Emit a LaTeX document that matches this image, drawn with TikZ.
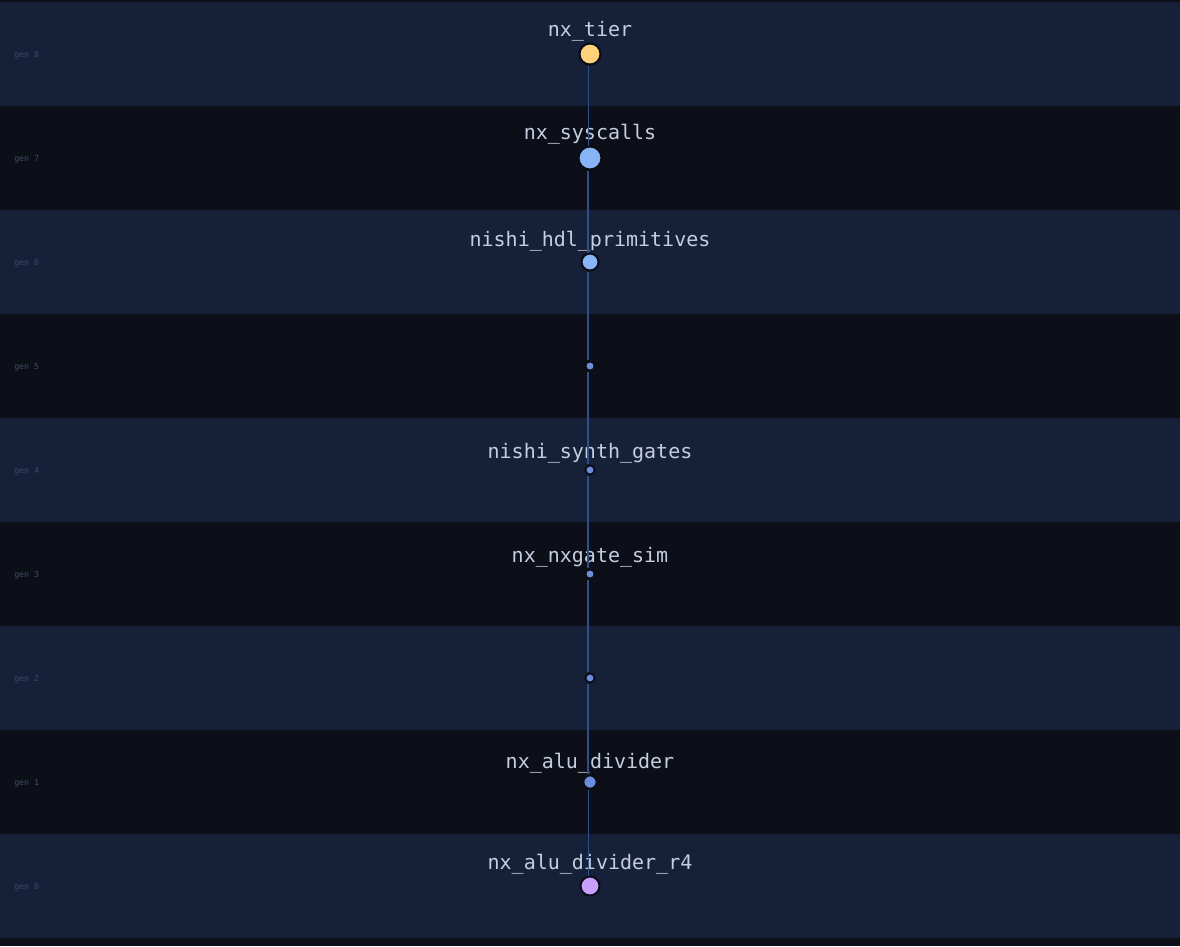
\documentclass[tikz,border=0pt]{standalone}
\usepackage{fontspec}
\usepackage{xcolor}
\usepackage{tikz}
\usetikzlibrary{positioning, calc}
\newfontfamily\pixfont{DejaVu Sans Mono}

\definecolor{bgdark}{HTML}{0C0F17}
\definecolor{bglight}{HTML}{162038}
\definecolor{genfg}{HTML}{3C4B69}
\definecolor{lblfg}{HTML}{C5CDE0}
\definecolor{edgefg}{HTML}{2C5088}
\definecolor{ringfg}{HTML}{0A0D14}
\definecolor{tiery}{HTML}{FFD27A}
\definecolor{sysblue}{HTML}{8AB4F8}
\definecolor{midblue}{HTML}{6B8FDF}
\definecolor{rfourp}{HTML}{C9A0FF}

\begin{document}
\begin{tikzpicture}[
    x=0.75pt, y=-0.75pt,
    gen/.style={circle, draw=ringfg, line width=1.5pt, inner sep=0pt},
    lbl/.style={font=\pixfont\fontsize{15}{15}\selectfont, text=lblfg,
                inner sep=0pt, text depth=0pt},
    genlbl/.style={font=\pixfont\fontsize{6.2}{6.2}\selectfont, text=genfg,
                   inner sep=0pt, anchor=base west},
    edge/.style={draw=edgefg, line width=0.75pt},
    edgethick/.style={draw=edgefg, line width=1.5pt},
]

%% Background and generation bands
\fill[bgdark] (0,0) rectangle (1180,946);
\useasboundingbox (0,0) rectangle (1180,946);
\foreach \g in {0,...,8} {
  \pgfmathsetmacro{\ytop}{2+(8-\g)*104}
  \ifodd\g\else
    \fill[bglight] (0,\ytop) rectangle (1180,\ytop+104);
  \fi
  \node[genlbl] (gl\g) at (14,\ytop+55) {gen \g};
}

%% Modules, one per generation
\node[gen, fill=tiery,   minimum size=15.75pt] (g8) at (590,54)  {};
\node[gen, fill=sysblue, minimum size=17.25pt] (g7) at (590,158) {};
\node[gen, fill=sysblue, minimum size=12.75pt] (g6) at (590,262) {};
\node[gen, fill=midblue, minimum size=7pt]     (g5) at (590,366) {};
\node[gen, fill=midblue, minimum size=7pt]     (g4) at (590,470) {};
\node[gen, fill=midblue, minimum size=7pt]     (g3) at (590,574) {};
\node[gen, fill=midblue, minimum size=7pt]     (g2) at (590,678) {};
\node[gen, fill=midblue, minimum size=10pt]    (g1) at (590,782) {};
\node[gen, fill=rfourp,  minimum size=14.25pt] (g0) at (590,886) {};

%% Names
\node[lbl, above=4.5pt of g8] (n8) {nx\_tier};
\node[lbl, above=4.5pt of g7] (n7) {nx\_syscalls};
\node[lbl, above=4.5pt of g6] (n6) {nishi\_hdl\_primitives};
\node[lbl, above=4.5pt of g4] (n4) {nishi\_synth\_gates};
\node[lbl, above=4.5pt of g3] (n3) {nx\_nxgate\_sim};
\node[lbl, above=4.5pt of g1] (n1) {nx\_alu\_divider};
\node[lbl, above=4.5pt of g0] (n0) {nx\_alu\_divider\_r4};

%% Lineage
\draw[edge]      ([xshift=-1.5]g8.south) -- ([xshift=-1.5]g7.north);
\draw[edgethick] ([xshift=-1.5]g7.south) -- ([xshift=-1.5]g6.north);
\draw[edgethick] ([xshift=-1.5]g6.south) -- ([xshift=-1.5]g5.north);
\draw[edgethick] ([xshift=-1.5]g5.south) -- ([xshift=-1.5]g4.north);
\draw[edgethick] ([xshift=-1.5]g4.south) -- ([xshift=-1.5]g3.north);
\draw[edgethick] ([xshift=-1.5]g3.south) -- ([xshift=-1.5]g2.north);
\draw[edgethick] ([xshift=-1.5]g2.south) -- ([xshift=-1.5]g1.north);
\draw[edge]      ([xshift=-1.5]g1.south) -- ([xshift=-1.5]g0.north);

\end{tikzpicture}
\end{document}
